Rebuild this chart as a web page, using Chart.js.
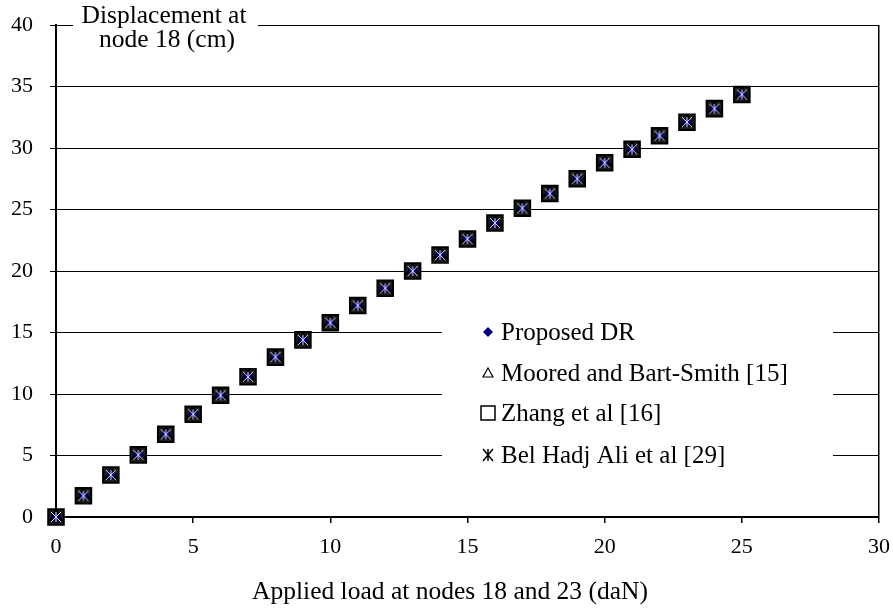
<!DOCTYPE html>
<html>
<head>
<meta charset="utf-8">
<script src="https://cdn.jsdelivr.net/npm/chart.js@4.4.1/dist/chart.umd.min.js"></script>
<style>
  html, body { margin: 0; padding: 0; background: #fff; }
  #wrap { width: 893px; height: 608px; }
</style>
</head>
<body>
<div id="wrap"><canvas id="myChart"></canvas></div>
<script>
// applied load (daN) and displacement at node 18 (cm)
var loads      = [0, 1, 2, 3, 4, 5, 6, 7, 8, 9, 10, 11, 12, 13, 14, 15, 16, 17, 18, 19, 20, 21, 22, 23, 24, 25];
var proposedDR = [0, 1.73, 3.42, 5.05, 6.72, 8.35, 9.9, 11.4, 13.0, 14.4, 15.8, 17.2, 18.6, 20.0, 21.3, 22.6, 23.9, 25.1, 26.3, 27.5, 28.8, 29.9, 31.0, 32.1, 33.2, 34.35];
var moored     = [0, 1.73, 3.42, 5.05, 6.72, 8.35, 9.9, 11.4, 13.0, 14.4, 15.8, 17.2, 18.6, 20.0, 21.3, 22.6, 23.9, 25.1, 26.3, 27.5, 28.8, 29.9, 31.0, 32.1, 33.2, 34.35];
var zhang      = [0, 1.73, 3.42, 5.05, 6.72, 8.35, 9.9, 11.4, 13.0, 14.4, 15.8, 17.2, 18.6, 20.0, 21.3, 22.6, 23.9, 25.1, 26.3, 27.5, 28.8, 29.9, 31.0, 32.1, 33.2, 34.35];
var belHadjAli = [0, 1.73, 3.42, 5.05, 6.72, 8.35, 9.9, 11.4, 13.0, 14.4, 15.8, 17.2, 18.6, 20.0, 21.3, 22.6, 23.9, 25.1, 26.3, 27.5, 28.8, 29.9, 31.0, 32.1, 33.2, 34.35];
var seriesNames = ["Proposed DR", "Moored and Bart-Smith [15]", "Zhang et al [16]", "Bel Hadj Ali et al [29]"];
var xTicks = [0, 5, 10, 15, 20, 25, 30];
var yTicks = [0, 5, 10, 15, 20, 25, 30, 35, 40];

var FONT = "Liberation Serif";

function pts(ys) {
  return loads.map(function (x, i) { return { x: x, y: ys[i] }; });
}

function makeAsterisk(size, color, lw) {
  var c = document.createElement('canvas');
  c.width = size; c.height = size;
  var g = c.getContext('2d');
  g.strokeStyle = color;
  g.lineWidth = lw;
  var m = 3, s = size;
  g.beginPath();
  g.moveTo(m, m); g.lineTo(s - m, s - m);
  g.moveTo(s - m, m); g.lineTo(m, s - m);
  g.moveTo(s / 2, m); g.lineTo(s / 2, s - m);
  g.stroke();
  return c;
}

// title, x label and legend drawn straight on the canvas
var overlay = {
  id: 'overlay',
  afterDraw: function (chart) {
    var ctx = chart.ctx;
    ctx.save();
    ctx.fillStyle = '#fff';
    ctx.fillRect(73, 17, 185, 14);
    ctx.fillStyle = '#000';
    ctx.font = '25.5px "' + FONT + '"';
    ctx.textAlign = 'center';
    ctx.textBaseline = 'alphabetic';
    ctx.fillText('Displacement at', 164, 23);
    ctx.fillText('node 18 (cm)', 167, 47);
    ctx.fillText('Applied load at nodes 18 and 23 (daN)', 450, 599);

    // legend box
    ctx.fillStyle = '#fff';
    ctx.fillRect(442, 306, 391, 170);
    var ys = [332, 373, 413, 455];
    var mx = 488;
    ctx.textAlign = 'left';
    ctx.textBaseline = 'middle';
    ctx.font = '25px "' + FONT + '"';
    ys.forEach(function (y, i) {
      ctx.beginPath();
      if (i === 0) {
        ctx.fillStyle = '#000080';
        ctx.moveTo(mx, y - 5); ctx.lineTo(mx + 5, y); ctx.lineTo(mx, y + 5); ctx.lineTo(mx - 5, y);
        ctx.closePath(); ctx.fill();
      } else if (i === 1) {
        ctx.strokeStyle = '#000'; ctx.lineWidth = 1.2;
        ctx.moveTo(mx, y - 5); ctx.lineTo(mx + 5, y + 4); ctx.lineTo(mx - 5, y + 4);
        ctx.closePath(); ctx.stroke();
      } else if (i === 2) {
        ctx.strokeStyle = '#000'; ctx.lineWidth = 1.5;
        ctx.rect(mx - 7, y - 7, 14, 14); ctx.stroke();
      } else {
        ctx.strokeStyle = '#000'; ctx.lineWidth = 1.5;
        ctx.moveTo(mx - 5, y - 6); ctx.lineTo(mx + 5, y + 6);
        ctx.moveTo(mx + 5, y - 6); ctx.lineTo(mx - 5, y + 6);
        ctx.moveTo(mx, y - 6); ctx.lineTo(mx, y + 6);
        ctx.stroke();
      }
      ctx.fillStyle = '#000';
      ctx.fillText(seriesNames[i], 501, y + 1);
    });
    ctx.restore();
  }
};

var ctx = document.getElementById('myChart');
var chart = new Chart(ctx, {
  type: 'scatter',
  data: {
    datasets: [{
      label: seriesNames[3],
      data: pts(belHadjAli),
      pointStyle: makeAsterisk(16, '#e0e0e0', 1),
      clip: false,
      order: 1
    }, {
      label: seriesNames[0],
      data: pts(proposedDR),
      pointStyle: 'rectRot',
      pointRadius: 5,
      backgroundColor: '#000080',
      borderColor: '#000080',
      borderWidth: 0,
      clip: false,
      order: 2
    }, {
      label: seriesNames[1],
      data: pts(moored),
      pointStyle: 'triangle',
      pointRadius: 8,
      backgroundColor: '#000',
      borderColor: '#000',
      borderWidth: 1,
      clip: false,
      order: 3
    }, {
      label: seriesNames[2],
      data: pts(zhang),
      pointStyle: 'rect',
      pointRadius: 11,
      backgroundColor: '#1c1c1c',
      borderColor: '#000',
      borderWidth: 2,
      clip: false,
      order: 4
    }]
  },
  options: {
    responsive: true,
    maintainAspectRatio: false,
    animation: false,
    layout: { padding: { top: 25, right: 14, left: 0, bottom: 0 } },
    plugins: {
      legend: { display: false },
      tooltip: { enabled: false }
    },
    scales: {
      x: {
        type: 'linear',
        min: 0,
        max: 30,
        afterFit: function (s) { s.height = 91; s.paddingLeft = 0; s.paddingRight = 0; },
        afterBuildTicks: function (s) { s.ticks = xTicks.map(function (v) { return { value: v }; }); },
        border: { color: '#000', width: 2 },
        grid: {
          color: function (c) { return c.tick && c.tick.value === 30 ? '#000' : 'rgba(0,0,0,0)'; },
          lineWidth: 1.5,
          tickColor: '#000',
          tickLength: 6
        },
        ticks: {
          color: '#000',
          padding: 11,
          maxRotation: 0,
          font: { family: FONT, size: 22 }
        }
      },
      y: {
        type: 'linear',
        min: 0,
        max: 40,
        afterFit: function (s) { s.width = 56; s.paddingTop = 0; s.paddingBottom = 0; },
        afterBuildTicks: function (s) { s.ticks = yTicks.map(function (v) { return { value: v }; }); },
        border: { color: '#000', width: 2 },
        grid: {
          color: '#000',
          lineWidth: 1,
          tickColor: '#000',
          tickLength: 6
        },
        ticks: {
          color: '#000',
          padding: 17,
          font: { family: FONT, size: 22 }
        }
      }
    }
  },
  plugins: [overlay]
});
</script>
</body>
</html>
